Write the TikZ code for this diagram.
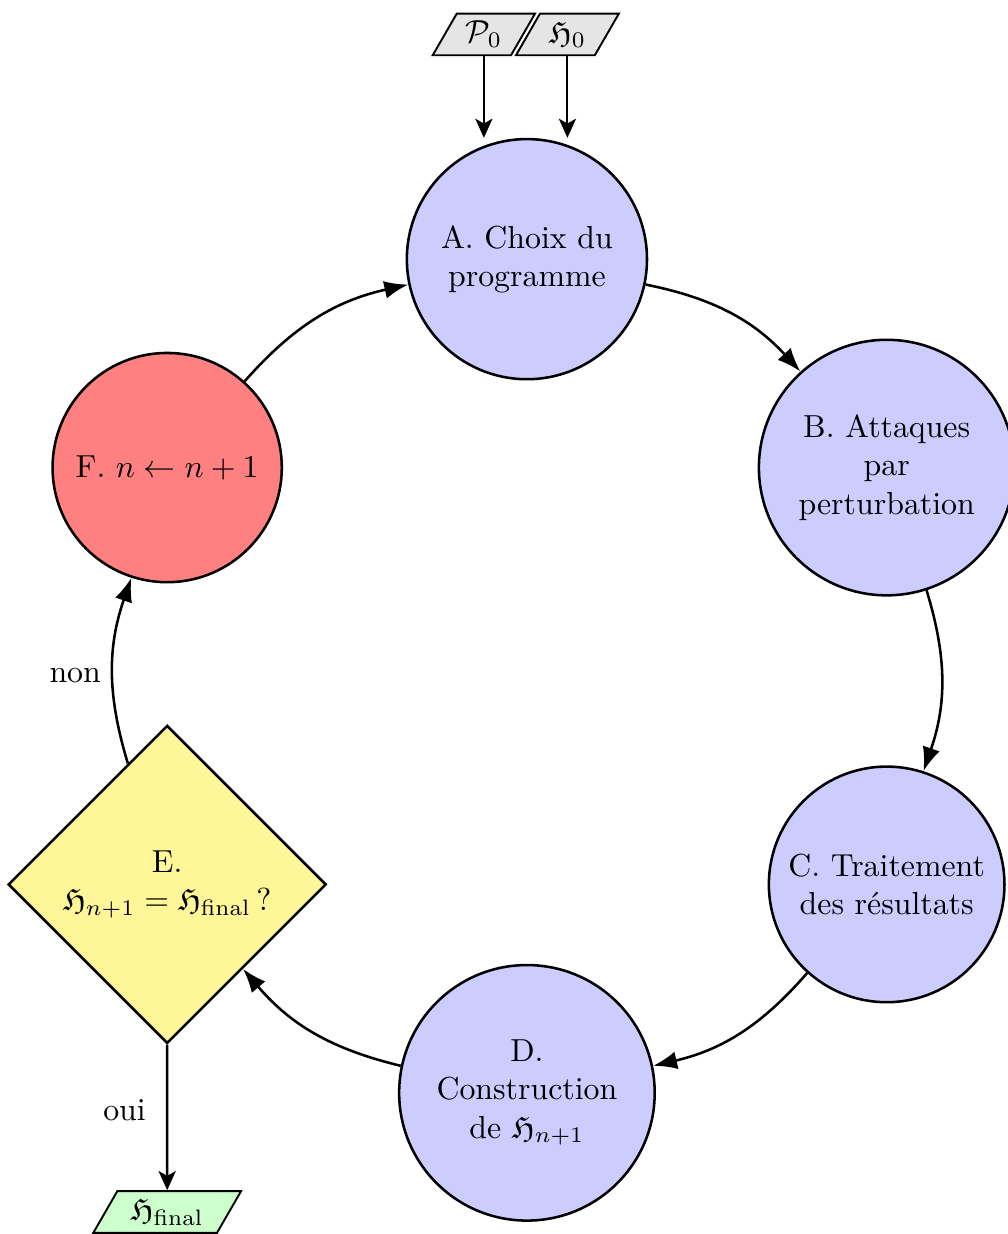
\documentclass[tikz,border=0pt]{standalone}
\usepackage{amssymb}
\usetikzlibrary{arrows,arrows.meta,shapes.geometric}
\definecolor{jaune}{RGB}{255,245,153}
\tikzset{
  etape/.style={draw=black,circle,thick,fill=blue!20,align=center},
  donnee/.style={draw=black,trapezium,trapezium left angle=60,trapezium right angle=120,
    semithick,inner sep=1pt,minimum height=0.46cm},
  fleche/.style={-{Latex[length=7.5pt,width=5.6pt]},thick},
  entre/.style={-{Stealth[length=6pt,width=5.4pt,inset=1.5pt]},semithick}
}

\begin{document}
\begin{tikzpicture}
\useasboundingbox (-5.815,-6.158) rectangle (5.308,7.46);
\node[etape,minimum size=2.65cm] (p0) at (0,4.6) {A. Choix du\\programme};
\node[etape,minimum size=2.82cm] (p1) at (3.97,2.3) {B. Attaques\\par\\perturbation};
\node[etape,minimum size=2.6cm] (p2) at (3.97,-2.3) {C. Traitement\\des r\'esultats};
\node[etape,minimum size=2.82cm] (p3) at (0,-4.6) {D.\\Construction\\de $\mathfrak{H}_{n+1}$};
\node[draw=black,diamond,thick,fill=jaune,align=center,minimum size=3.33cm] (p4) at (-3.97,-2.3) {E.\\$\mathfrak{H}_{n+1}=\mathfrak{H}_{\mathrm{final}}\,?$};
\node[etape,fill=red!50,minimum size=2.53cm] (p5) at (-3.97,2.3) {F. $n\leftarrow n+1$};
% entrees / sortie
\node[donnee,fill=black!10,minimum width=1.04cm] (i0) at (-0.475,7.08) {$\mathcal{P}_0$};
\node[donnee,fill=black!10,minimum width=1.0cm] (i1) at (0.447,7.08) {$\mathfrak{H}_0$};
\node[donnee,fill=green!20,minimum width=1.5cm] (o0) at (-3.97,-5.915) {$\mathfrak{H}_{\mathrm{final}}$};
\draw [entre] (i0.south) -- (i0.south |- p0.north);
\draw [entre] (i1.south) -- (i1.south |- p0.north);
\draw [fleche] (p0) edge[bend left=18] (p1);
\draw [fleche] (p1) edge[bend left=18] (p2);
\draw [fleche] (p2) edge[bend left=18] (p3);
\draw [fleche] (p3) edge[bend left=18] (p4);
\draw [fleche] (p4) edge[bend left=18] node[left,pos=0.47] {non} (p5);
\draw [fleche] (p5) edge[bend left=18] (p0);
\draw [entre,thick] (p4) -- node[left=3pt,pos=0.45] {oui} (o0);
\end{tikzpicture}
\end{document}
